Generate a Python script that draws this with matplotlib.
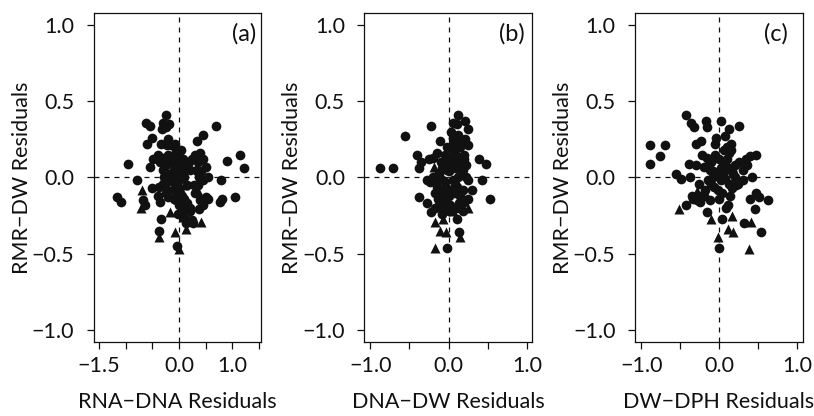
import numpy as np
import matplotlib.pyplot as plt

plt.rcParams['font.family'] = ['Lato', 'DejaVu Sans']
plt.rcParams['axes.unicode_minus'] = True

# panel (a): RNA-DNA residuals vs RMR-DW residuals
a_circ_x = [-0.25, -0.62, -0.55, -0.30, -0.18, -0.31, -0.25, 0.69, 0.44, 0.34,
            -0.50, -0.60, -0.20, -0.22, -0.33, -0.15, -0.06, -0.96, 1.15, 1.22,
            0.89, -0.48, -0.54, -0.40, -0.35, -0.30, -0.25, -0.20, -0.15, -0.10,
            -0.05, 0.00, 0.05, -0.08, 0.02, -0.30, -0.12, 0.08, 0.12, 0.30,
            0.40, 0.45, 0.35, 0.50, 0.42, 0.55, 0.38, 0.25, 0.20, 0.78,
            -0.79, -0.50, -0.38, -0.30, -0.25, -0.40, -0.35, -0.20, -0.10, -0.05,
            0.00, 0.05, 0.10, 0.15, 0.20, 0.08, 0.15, 0.25, -1.17, -1.09,
            -0.63, -0.68, 0.35, 0.45, 0.30, 0.40, 0.50, 0.38, 0.45, 0.55,
            0.77, 0.80, 1.04, -0.34, -0.37, -0.03, 0.13, 0.26, 0.20, -0.15,
            0.00, -0.04, 0.10, 0.15, -0.02, 0.04, -0.07, 0.06, -0.12, 0.18,
            -0.18, -0.28, 0.28, 0.33, -0.10, 0.02, -0.02, 0.10]
a_circ_y = [0.41, 0.36, 0.34, 0.36, 0.35, 0.32, 0.33, 0.34, 0.28, 0.24,
            0.26, 0.22, 0.25, 0.21, 0.22, 0.21, 0.18, 0.09, 0.15, 0.06,
            0.11, 0.12, 0.07, 0.15, 0.10, 0.13, 0.08, 0.15, 0.10, 0.05,
            0.12, 0.08, 0.03, 0.00, -0.01, 0.05, 0.14, 0.12, 0.07, 0.15,
            0.16, 0.12, 0.10, 0.07, 0.04, 0.00, 0.00, 0.12, 0.05, -0.02,
            -0.02, -0.07, -0.06, -0.04, -0.10, -0.12, -0.16, -0.13, -0.08, -0.15,
            -0.18, -0.12, -0.20, -0.17, -0.22, -0.25, -0.28, -0.28, -0.13, -0.16,
            -0.18, -0.15, -0.05, -0.02, -0.10, -0.15, -0.13, -0.21, -0.18, -0.14,
            -0.16, -0.14, -0.13, -0.27, -0.35, -0.45, -0.30, -0.30, -0.20, -0.02,
            0.03, -0.05, 0.00, -0.05, 0.15, 0.18, 0.22, 0.06, -0.03, 0.10,
            0.02, 0.00, -0.05, 0.04, -0.14, -0.10, -0.24, -0.14]
a_tri_x = [0.31, -0.69, -0.71, -0.17, 0.35, 0.42, -0.37, -0.08, 0.13, 0.07, -0.01, -0.22, 0.10]
a_tri_y = [0.07, -0.08, -0.20, -0.23, -0.09, -0.29, -0.39, -0.36, -0.34, -0.26, -0.47, -0.05, -0.05]

# panel (b): DNA-DW residuals
b_circ_x = [-0.88, -0.71, -0.56, -0.22, -0.41, -0.35, -0.38, -0.11, 0.12, 0.05,
            0.10, 0.21, 0.25, 0.05, 0.14, 0.21, 0.25, 0.39, 0.47, 0.42,
            0.53, 0.30, -0.28, -0.24, -0.38, -0.28, -0.22, -0.18, -0.02, 0.13,
            0.11, 0.25, 0.18, -0.20, -0.15, -0.10, -0.05, 0.00, 0.05, 0.10,
            0.15, 0.20, 0.08, -0.02, -0.12, 0.18, 0.22, 0.12, 0.05, -0.05,
            -0.15, -0.10, 0.00, 0.08, 0.15, 0.20, -0.18, -0.05, 0.02, 0.10,
            -0.12, -0.08, 0.00, 0.06, -0.02, 0.15, -0.08, 0.25, -0.20, 0.12,
            0.03, -0.25, 0.08, 0.18, -0.14, 0.22, 0.03, -0.06, 0.01, 0.10,
            -0.10, 0.16, -0.16, 0.04, -0.03, 0.07, 0.13, -0.12, 0.00, 0.09,
            -0.07, 0.19]
b_circ_y = [0.06, 0.06, 0.27, 0.34, 0.15, 0.10, 0.06, 0.24, 0.41, 0.36,
            0.35, 0.37, 0.32, 0.26, 0.24, 0.25, 0.21, 0.12, 0.09, -0.02,
            -0.14, -0.08, -0.02, -0.03, -0.13, -0.17, -0.23, -0.20, -0.46, -0.36,
            -0.27, -0.14, -0.08, 0.13, 0.16, 0.10, 0.15, 0.12, 0.18, 0.14,
            0.10, 0.15, 0.06, 0.05, 0.03, 0.05, 0.08, 0.00, -0.02, -0.03,
            -0.06, -0.10, -0.08, -0.10, -0.12, -0.16, -0.10, -0.15, -0.18, -0.20,
            -0.18, -0.24, -0.22, 0.22, 0.20, 0.20, 0.06, -0.02, 0.00, 0.28,
            0.30, 0.12, -0.04, -0.22, -0.14, 0.00, 0.09, 0.08, -0.12, -0.06,
            -0.01, 0.02, -0.03, 0.12, -0.07, 0.16, -0.17, -0.08, 0.04, 0.24,
            -0.20, 0.12]
b_tri_x = [-0.18, -0.11, -0.03, -0.17, 0.14, 0.05, 0.25, -0.07, -0.19, 0.12, -0.08]
b_tri_y = [-0.29, -0.35, -0.36, -0.46, -0.39, -0.22, -0.20, -0.27, 0.07, -0.05, -0.15]

# panel (c): DW-DPH residuals
c_circ_x = [-0.89, -0.69, -0.76, -0.89, -0.42, -0.36, -0.32, -0.17, -0.16, 0.02,
            0.25, 0.13, 0.08, -0.04, -0.30, -0.23, -0.55, -0.49, -0.39, -0.38,
            -0.26, -0.42, -0.34, -0.25, -0.19, -0.15, 0.00, 0.11, 0.04, 0.32,
            0.54, 0.46, 0.47, 0.40, 0.42, 0.63, 0.47, 0.51, 0.40, 0.30,
            0.24, 0.16, -0.15, -0.10, -0.05, 0.00, 0.05, 0.10, 0.15, 0.20,
            -0.20, -0.12, -0.02, 0.08, 0.18, 0.25, -0.08, 0.02, 0.12, 0.22,
            -0.18, -0.06, 0.04, 0.14, -0.12, 0.00, 0.10, -0.22, -0.30, 0.35,
            0.30, -0.05, 0.06, 0.15, -0.14, 0.20, 0.36, -0.02, 0.09, -0.08,
            0.03, 0.12, -0.13, 0.07, -0.03, 0.17, -0.25, 0.10, -0.10, 0.05,
            -0.28, -0.35]
c_circ_y = [0.21, 0.21, 0.14, 0.09, 0.41, 0.36, 0.33, 0.37, 0.33, 0.37,
            0.34, 0.32, 0.27, 0.26, 0.22, 0.24, 0.02, -0.01, 0.09, 0.00,
            -0.04, -0.18, -0.14, -0.16, -0.12, -0.23, -0.46, -0.18, -0.27, -0.30,
            -0.36, -0.21, 0.15, 0.14, 0.00, -0.15, -0.10, -0.13, -0.14, -0.02,
            -0.04, -0.07, 0.13, 0.10, 0.15, 0.12, 0.08, 0.12, 0.18, 0.08,
            0.07, 0.05, 0.03, 0.05, 0.02, 0.10, 0.00, -0.02, -0.04, -0.05,
            -0.08, -0.06, -0.10, -0.12, -0.15, -0.14, 0.20, 0.15, 0.08, 0.12,
            0.05, 0.22, 0.18, 0.22, -0.02, 0.00, 0.08, -0.08, -0.20, 0.04,
            0.06, 0.16, 0.09, -0.01, 0.01, 0.04, -0.12, 0.07, -0.04, 0.02,
            -0.15, -0.12]
c_tri_x = [-0.51, -0.10, -0.02, 0.11, 0.18, 0.16, 0.41, 0.38, -0.28]
c_tri_y = [-0.21, -0.27, -0.39, -0.34, -0.36, -0.25, -0.29, -0.47, -0.09]

panels = [
    (a_circ_x, a_circ_y, a_tri_x, a_tri_y, 'RNA\u2212DNA Residuals', '(a)',
     (-1.6, 1.54), [-1.5, -1.0, -0.5, 0.0, 0.5, 1.0, 1.5],
     ['\u22121.5', '', '', '0.0', '', '1.0', ''], 0.115, 0.897),
    (b_circ_x, b_circ_y, b_tri_x, b_tri_y, 'DNA\u2212DW Residuals', '(b)',
     (-1.075, 1.062), [-1.0, -0.5, 0.0, 0.5, 1.0],
     ['\u22121.0', '', '0.0', '', '1.0'], 0.4476, 0.877),
    (c_circ_x, c_circ_y, c_tri_x, c_tri_y, 'DW\u2212DPH Residuals', '(c)',
     (-1.08, 1.07), [-1.0, -0.5, 0.0, 0.5, 1.0],
     ['\u22121.0', '', '0.0', '', '1.0'], 0.780, 0.84),
]

fig = plt.figure(figsize=(8.14, 4.16), dpi=100)
col = '#111111'
fs = 15.5

for cx, cy, tx, ty, xlab, tag, xlim, xt, xtl, left, tagx in panels:
    ax = fig.add_axes([left, 0.178, 0.206, 0.791])
    ax.axhline(0, color=col, lw=0.9, ls=(0, (4, 4)), zorder=1)
    ax.axvline(0, color=col, lw=0.9, ls=(0, (4, 4)), zorder=1)
    ax.plot(cx, cy, 'o', color=col, ms=7, mec='none', zorder=2)
    ax.plot(tx, ty, '^', color=col, ms=7.5, mec='none', zorder=2)
    ax.set_xlim(*xlim)
    ax.set_ylim(-1.08, 1.08)
    ax.set_xticks(xt)
    ax.set_xticklabels(xtl)
    ax.set_yticks([-1.0, -0.5, 0.0, 0.5, 1.0])
    ax.set_yticklabels(['\u22121.0', '\u22120.5', '0.0', '0.5', '1.0'])
    ax.tick_params(axis='both', direction='out', length=5, width=0.9,
                   labelsize=fs, color=col, labelcolor=col)
    ax.tick_params(axis='y', pad=9)
    ax.tick_params(axis='x', pad=5)
    for s in ax.spines.values():
        s.set_linewidth(0.9)
        s.set_color(col)
    ax.set_xlabel(xlab, fontsize=fs, color=col)
    ax.xaxis.label.set_va('center')
    ax.xaxis.set_label_coords(0.5, -0.183)
    ax.set_ylabel('RMR\u2212DW Residuals', fontsize=fs, color=col)
    ax.yaxis.label.set_va('center')
    ax.yaxis.set_label_coords(-0.43, 0.5)
    ax.text(tagx, 0.936, tag, transform=ax.transAxes, fontsize=17,
            ha='center', va='center', color=col)

fig.savefig('out.png', dpi=100)
